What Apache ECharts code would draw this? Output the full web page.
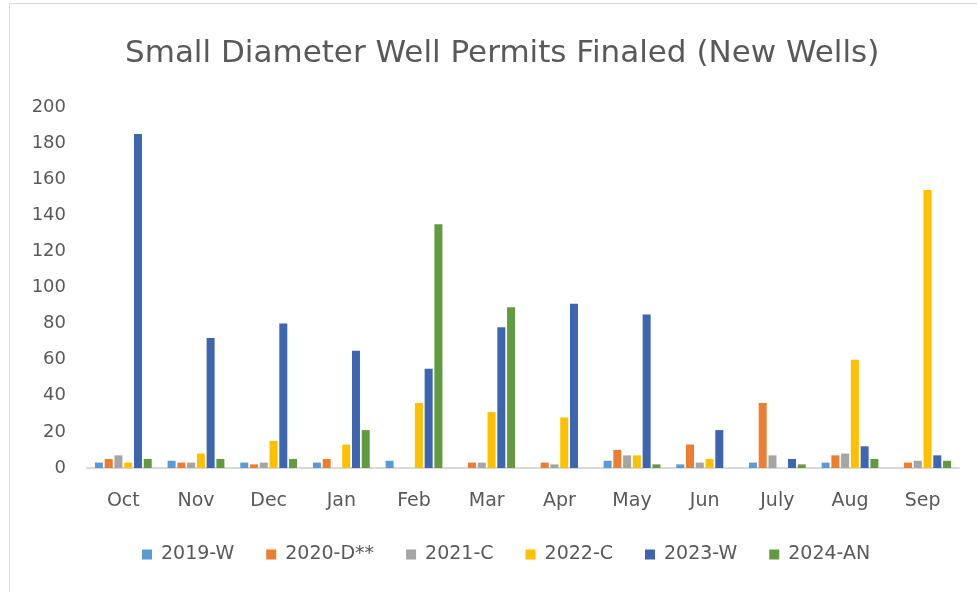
<!DOCTYPE html>
<html>
<head>
<meta charset="utf-8">
<script src="https://cdn.jsdelivr.net/npm/echarts@6/dist/echarts.min.js"></script>
<style>
  html, body { margin:0; padding:0; background:#fff; }
  #frame { position:absolute; left:9px; top:3px; width:980px; height:600px; border:1px solid #d9d9d9; box-sizing:border-box; }
  #chart { position:absolute; left:0; top:0; width:977px; height:592px; }
</style>
</head>
<body>
<div id="frame"></div>
<div id="chart"></div>
<script>
let months = ['Oct','Nov','Dec','Jan','Feb','Mar','Apr','May','Jun','July','Aug','Sep']
let yTicks = [0,20,40,60,80,100,120,140,160,180,200]

let w2019 = [3,4,3,3,4,0,0,4,2,3,3,0]
let d2020 = [5,3,2,5,0,3,3,10,13,36,7,3]
let c2021 = [7,3,3,0,0,3,2,7,3,7,8,4]
let c2022 = [3,8,15,13,36,31,28,7,5,0,60,154]
let w2023 = [185,72,80,65,55,78,91,85,21,5,12,7]
let an2024 = [5,5,5,21,135,89,0,2,0,2,5,4]

let names = ['2019-W','2020-D**','2021-C','2022-C','2023-W','2024-AN']
let colors = ['#5b9bd5','#ed7d31','#a5a5a5','#ffc000','#3d65b0','#629b3f']
let seriesData = [w2019,d2020,c2021,c2022,w2023,an2024]

let font = 'DejaVu Sans'
let myChart = echarts.init(document.getElementById('chart'))
let option = {
  animation:false,
  title:{
    text:'Small Diameter Well Permits Finaled (New Wells)',
    left:120,
    top:33,
    textStyle:{
      fontFamily:font,
      fontWeight:'normal',
      fontSize:31,
      color:'#595959'
    }
  },
  legend:{
    bottom:23,
    left:137,
    itemWidth:10,
    itemHeight:10,
    itemGap:32,
    icon:'rect',
    textStyle:{ fontFamily:font, fontSize:19, color:'#595959', padding:[0,0,0,4] },
    data:names
  },
  grid:{ left:87, right:18, top:107, bottom:124 },
  xAxis:{
    type:'category',
    data:months,
    axisLine:{ lineStyle:{ color:'#d9d9d9', width:2 } },
    axisTick:{ show:false },
    axisLabel:{ fontFamily:font, fontSize:19, color:'#595959', margin:24 }
  },
  yAxis:{
    type:'value',
    min:yTicks[0],
    max:yTicks[yTicks.length-1],
    interval:20,
    splitLine:{ show:false },
    axisLine:{ show:false },
    axisLabel:{ fontFamily:font, fontSize:18, color:'#595959', margin:21 }
  },
  series:names.map((n,i)=>({
    name:n,
    type:'bar',
    data:seriesData[i],
    barWidth:8,
    barGap:'22%',
    itemStyle:{ color:colors[i] }
  }))
}
myChart.setOption(option)
</script>
</body>
</html>
